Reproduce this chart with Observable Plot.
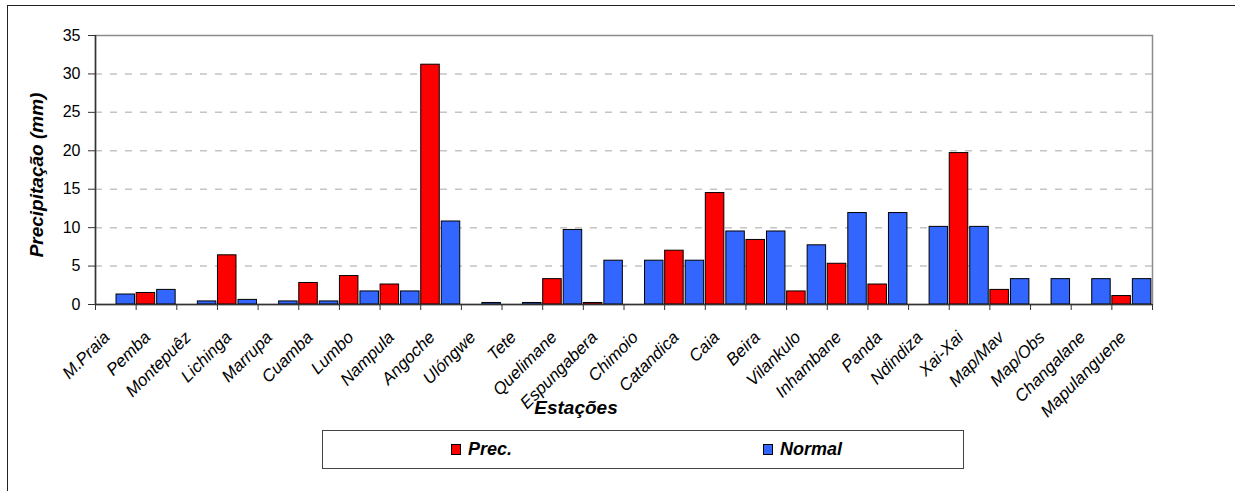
<!DOCTYPE html>
<html><head><meta charset="utf-8">
<script src="https://cdn.jsdelivr.net/npm/d3@7"></script>
<script src="https://cdn.jsdelivr.net/npm/@observablehq/plot@0.6"></script>
<style>
body{margin:0;background:#fff;}
#wrap{position:relative;width:1235px;height:491px;overflow:hidden;font-family:"Liberation Sans",Arial,sans-serif;}
#outer{position:absolute;left:6.5px;top:4.5px;width:1400px;height:700px;border-left:1.5px solid #222;border-top:1.5px solid #222;}
#chart{position:absolute;left:0;top:0;}
#legend{position:absolute;left:322px;top:430px;width:642px;height:39px;box-sizing:border-box;border:1px solid #444;background:#fff;}
.sw{position:absolute;width:10px;height:11px;box-sizing:border-box;border:1px solid #000;}
.lt{position:absolute;font-weight:bold;font-style:italic;font-size:18px;line-height:20px;color:#000;}
</style>
</head><body>
<div id="wrap"><div id="outer"></div><div id="chart"></div><div id="legend"></div></div>
<script>
const stations = ["M.Praia","Pemba","Montepuêz","Lichinga","Marrupa","Cuamba","Lumbo","Nampula","Angoche","Ulóngwe","Tete","Quelimane","Espungabera","Chimoio","Catandica","Caia","Beira","Vilankulo","Inhambane","Panda","Ndindiza","Xai-Xai","Map/Mav","Map/Obs","Changalane","Mapulanguene"];
const prec   = [0, 1.5, 0, 6.4, 0, 2.8, 3.7, 2.6, 31.2, 0, 0, 3.3, 0.2, 0, 7.0, 14.5, 8.4, 1.7, 5.3, 2.6, 0, 19.7, 1.9, 0, 0, 1.1];
const normal = [1.3, 1.9, 0.4, 0.6, 0.4, 0.4, 1.7, 1.7, 10.8, 0.2, 0.2, 9.7, 5.7, 5.7, 5.7, 9.5, 9.5, 7.7, 11.9, 11.9, 10.1, 10.1, 3.3, 3.3, 3.3, 3.3];
const seriesNames = ["Prec.", "Normal"];
const seriesColors = ["#ff0000", "#3366ff"];
const yTicks = [0, 5, 10, 15, 20, 25, 30, 35];
const yTitle = "Precipitação (mm)";
const xTitle = "Estações";

const W = 1235, H = 491, mL = 95, mR = 83, mT = 35, mB = 187;
const bw = (W - mL - mR) / stations.length;

const precRows = stations.map((s, i) => ({station: s, value: prec[i]})).filter(d => d.value > 0);
const normRows = stations.map((s, i) => ({station: s, value: normal[i]})).filter(d => d.value > 0);

const font = '"Liberation Sans", Arial, sans-serif';
const chart = Plot.plot({
  width: W, height: H, marginLeft: mL, marginRight: mR, marginTop: mT, marginBottom: mB,
  style: {fontFamily: font, fontSize: "16px", color: "#000", background: "transparent", overflow: "visible"},
  x: {type: "band", domain: stations, padding: 0, round: false, label: null},
  y: {domain: [0, 35], label: null},
  marks: [
    Plot.gridY(yTicks.filter(t => t > 0 && t < 35), {stroke: "#c4c4c4", strokeOpacity: 1, strokeWidth: 1.5, strokeDasharray: "7,8"}),
    Plot.frame({stroke: "#8c8c8c", strokeWidth: 1.5}),
    Plot.barY(precRows, {x: "station", y: "value", fill: seriesColors[0], stroke: "#000", strokeWidth: 1, insetLeft: 0.5, insetRight: bw / 2 + 1.3}),
    Plot.barY(normRows, {x: "station", y: "value", fill: seriesColors[1], stroke: "#000", strokeWidth: 1, insetLeft: bw / 2 + 0.7, insetRight: 1.15}),
    Plot.ruleY([0], {stroke: "#333", strokeWidth: 1.5}),
    Plot.ruleX([stations[0]], {x: d => d, dx: -bw / 2, stroke: "#333", strokeWidth: 1.5}),
    Plot.ruleX(stations, {x: d => d, dx: -bw / 2, y1: 0, y2: 0, insetBottom: -6, stroke: "#333", strokeWidth: 1}),
    Plot.ruleX([stations[stations.length - 1]], {x: d => d, dx: bw / 2, y1: 0, y2: 0, insetBottom: -6, stroke: "#333", strokeWidth: 1}),
    Plot.axisY({ticks: yTicks, tickSize: 7, tickPadding: 8, fontSize: 16, stroke: "#333"}),
    Plot.axisX({tickSize: 0, tickRotate: -45, tickPadding: 14, dx: -9, dy: 16, fontStyle: "italic", fontSize: 17}),
    Plot.text([yTitle], {text: d => d, frameAnchor: "left", rotate: -90, dx: -59, dy: 5, fontSize: 19, fontWeight: "bold", fontStyle: "italic", textAnchor: "middle", lineAnchor: "middle"}),
    Plot.text([xTitle], {text: d => d, frameAnchor: "bottom", dx: -48, dy: 103, fontSize: 19, fontWeight: "bold", fontStyle: "italic", textAnchor: "middle", lineAnchor: "middle"})
  ]
});
document.getElementById("chart").appendChild(chart);

const legend = document.getElementById("legend");
const swLeft = [128, 440];
seriesNames.forEach((name, i) => {
  const sw = document.createElement("div");
  sw.className = "sw";
  sw.style.left = swLeft[i] + "px";
  sw.style.top = "13px";
  sw.style.background = seriesColors[i];
  legend.appendChild(sw);
  const t = document.createElement("div");
  t.className = "lt";
  t.style.left = (swLeft[i] + 17) + "px";
  t.style.top = "8px";
  t.textContent = name;
  legend.appendChild(t);
});
</script>
</body></html>
